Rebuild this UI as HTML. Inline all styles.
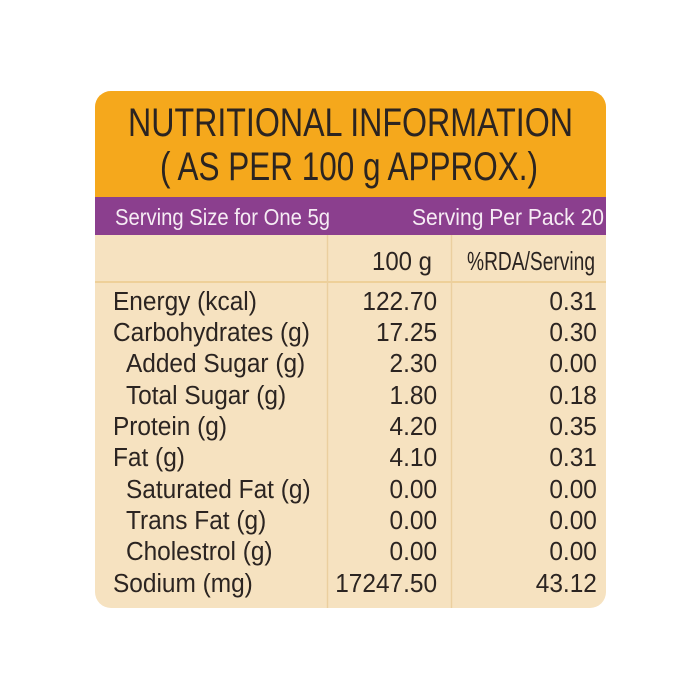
<!DOCTYPE html>
<html><head><style>html,body{margin:0;padding:0;background:#fff}svg{display:block}</style></head>
<body>
<svg width="700" height="700" viewBox="0 0 700 700" xmlns="http://www.w3.org/2000/svg" font-family="Liberation Sans, sans-serif">
<defs><clipPath id="c"><rect x="95" y="91" width="511" height="517" rx="16"/></clipPath></defs>
<g clip-path="url(#c)">
<rect x="95" y="91" width="511" height="517" fill="#f6e2c0"/>
<rect x="95" y="91" width="511" height="107" fill="#f5a81c"/>
<rect x="95" y="197" width="511" height="38" fill="#8b3f8e"/>
<line x1="95" y1="282" x2="606" y2="282" stroke="#ebc98c" stroke-width="1.5"/>
<line x1="327.5" y1="235" x2="327.5" y2="608" stroke="#ebcf9f" stroke-width="1.5"/>
<line x1="451.5" y1="235" x2="451.5" y2="608" stroke="#ebcf9f" stroke-width="1.5"/>
</g>
<g fill="#2b2421">
<text x="128" y="136" font-size="40" textLength="445" lengthAdjust="spacingAndGlyphs">NUTRITIONAL INFORMATION</text>
<text x="160" y="180" font-size="40" textLength="378" lengthAdjust="spacingAndGlyphs">( AS PER 100 g APPROX.)</text>
</g>
<g fill="#f6ecf4" font-size="23">
<text x="115" y="225" textLength="215" lengthAdjust="spacingAndGlyphs">Serving Size for One 5g</text>
<text x="412" y="225" textLength="192" lengthAdjust="spacingAndGlyphs">Serving Per Pack 20</text>
</g>
<g fill="#2b2421" font-size="26">
<text x="372" y="270" textLength="60" lengthAdjust="spacingAndGlyphs">100 g</text>
<text x="467" y="270" textLength="128" lengthAdjust="spacingAndGlyphs">%RDA/Serving</text>
</g>
<g fill="#2b2421" font-size="26">
<g transform="scale(0.94,1)">
<text x="120.2" y="310">Energy (kcal)</text>
<text x="120.2" y="341">Carbohydrates (g)</text>
<text x="134" y="372">Added Sugar (g)</text>
<text x="134" y="404">Total Sugar (g)</text>
<text x="120.2" y="435">Protein (g)</text>
<text x="120.2" y="466">Fat (g)</text>
<text x="134" y="498">Saturated Fat (g)</text>
<text x="134" y="529">Trans Fat (g)</text>
<text x="134" y="560">Cholestrol (g)</text>
<text x="120.2" y="592">Sodium (mg)</text>
</g>
<g text-anchor="end" transform="scale(0.94,1)">
<text x="465" y="310">122.70</text>
<text x="465" y="341">17.25</text>
<text x="465" y="372">2.30</text>
<text x="465" y="404">1.80</text>
<text x="465" y="435">4.20</text>
<text x="465" y="466">4.10</text>
<text x="465" y="498">0.00</text>
<text x="465" y="529">0.00</text>
<text x="465" y="560">0.00</text>
<text x="465" y="592">17247.50</text>
<text x="635" y="310">0.31</text>
<text x="635" y="341">0.30</text>
<text x="635" y="372">0.00</text>
<text x="635" y="404">0.18</text>
<text x="635" y="435">0.35</text>
<text x="635" y="466">0.31</text>
<text x="635" y="498">0.00</text>
<text x="635" y="529">0.00</text>
<text x="635" y="560">0.00</text>
<text x="635" y="592">43.12</text>
</g>
</g>
</svg>
</body></html>
